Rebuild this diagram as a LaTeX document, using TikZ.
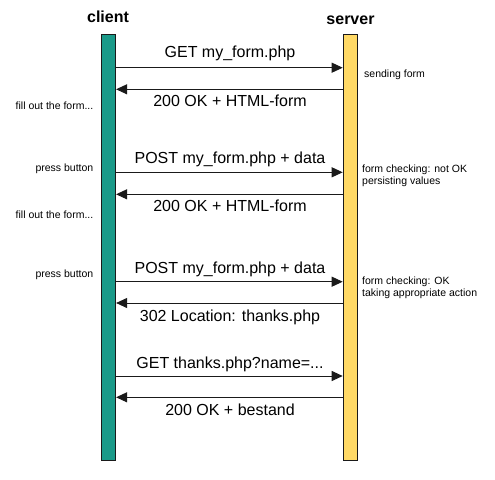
\documentclass[tikz,border=0pt]{standalone}
\usepackage{fontspec}
\setmainfont{Liberation Sans}
\usetikzlibrary{arrows.meta}
\definecolor{clientc}{HTML}{1A9A89}
\definecolor{serverc}{HTML}{FFD966}
\definecolor{linec}{HTML}{1A1A1A}
\tikzset{
  bar/.style={draw=linec, line width=1pt, minimum width=14.6pt, minimum height=426pt, inner sep=0pt, anchor=north west},
  msg/.style={draw=linec, line width=1pt, -{Triangle[length=11pt,width=10pt]}},
  lbl/.style={font=\fontsize{16}{19}\selectfont, inner sep=0pt, text=black},
  ttl/.style={font=\fontsize{16}{19}\selectfont\bfseries, inner sep=0pt},
  note/.style={font=\fontsize{10.5}{12.7}\selectfont, inner sep=0pt, align=left},
}
\begin{document}
\begin{tikzpicture}[x=1pt,y=-1pt]
\useasboundingbox (0,0) rectangle (495,479);
\node[bar, fill=clientc] (client) at (100.5,34) {};
\node[bar, fill=serverc] (server) at (342.7,34) {};
\node[ttl] (tc) at (108,17) {client};
\node[ttl] (ts) at (350.5,20) {server};
% messages
\draw[msg] (client.east |- 0,67.7) -- (server.west |- 0,67.7);
\node[lbl] (l1) at (230,53) {GET my\_form.php};
\draw[msg] (server.west |- 0,89.3) -- (client.east |- 0,89.3);
\node[lbl] (l2) at (230,100.5) {200 OK + HTML-form};
\draw[msg] (client.east |- 0,172.3) -- (server.west |- 0,172.3);
\node[lbl] (l3) at (230,159) {POST my\_form.php + data};
\draw[msg] (server.west |- 0,194.3) -- (client.east |- 0,194.3);
\node[lbl] (l4) at (230,206) {200 OK + HTML-form};
\draw[msg] (client.east |- 0,281.7) -- (server.west |- 0,281.7);
\node[lbl] (l5) at (230,269) {POST my\_form.php + data};
\draw[msg] (server.west |- 0,303) -- (client.east |- 0,303);
\node[lbl] (l6) at (230,317) {302 Location: thanks.php};
\draw[msg] (client.east |- 0,376) -- (server.west |- 0,376);
\node[lbl] (l7) at (230,364) {GET thanks.php?name=...};
\draw[msg] (server.west |- 0,397.3) -- (client.east |- 0,397.3);
\node[lbl] (l8) at (230,409.5) {200 OK + bestand};
% notes left
\node[note, anchor=east] (n1) at (93.5,106) {fill out the form...};
\node[note, anchor=east] (n2) at (93.5,169) {press button};
\node[note, anchor=east] (n3) at (93.5,215) {fill out the form...};
\node[note, anchor=east] (n4) at (93.5,274.3) {press button};
% notes right
\node[note, anchor=west] (r1) at (364,75) {sending form};
\node[note, anchor=west] (r2) at (362,175.7) {form checking: not OK\\persisting values};
\node[note, anchor=west] (r3) at (362,287.7) {form checking: OK\\taking appropriate action};
\end{tikzpicture}
\end{document}
